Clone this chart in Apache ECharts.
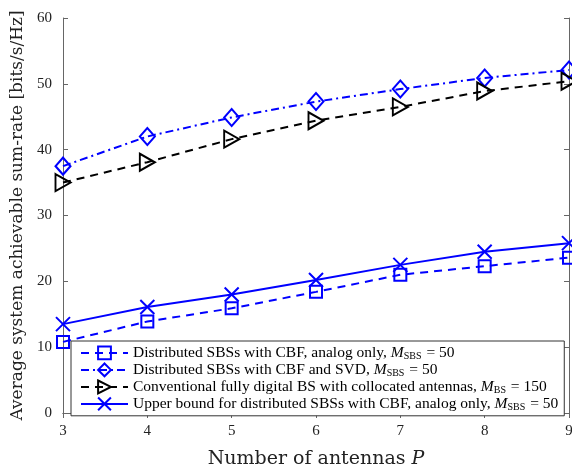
<!DOCTYPE html>
<html>
<head>
<meta charset="utf-8">
<script src="https://cdn.jsdelivr.net/npm/echarts@6/dist/echarts.min.js"></script>
<style>
  html, body { margin: 0; padding: 0; background: #fff; }
  #main { width: 572px; height: 471px; }
</style>
</head>
<body>
<div id="main"></div>
<script>
// 数据
var antennas = [3, 4, 5, 6, 7, 8, 9];
var analogOnly = [10.8, 13.9, 15.9, 18.4, 21.0, 22.3, 23.6];
var cbfSvd = [37.5, 42.0, 44.9, 47.3, 49.2, 50.9, 52.1];
var fullyDigital = [35.0, 38.1, 41.6, 44.4, 46.5, 48.9, 50.4];
var upperBound = [13.5, 16.1, 18.0, 20.2, 22.5, 24.5, 25.8];
var yTicks = [0, 10, 20, 30, 40, 50, 60];

var serif = '"Liberation Serif", "DejaVu Serif", serif';
var wideSerif = '"DejaVu Serif", serif';
var blue = '#0000ff';

function pairs(arr) {
    return antennas.map(function (x, i) { return [x, arr[i]]; });
}

var chart = echarts.init(document.getElementById('main'));

var legendText = {
    'a': 'Distributed SBSs with CBF, analog only, {i|M}{sub|SBS} = 50',
    'b': 'Distributed SBSs with CBF and SVD, {i|M}{sub|SBS} = 50',
    'c': 'Conventional fully digital BS with collocated antennas, {i|M}{sub|BS} = 150',
    'd': 'Upper bound for distributed SBSs with CBF, analog only, {i|M}{sub|SBS} = 50'
};

var option = {
    backgroundColor: '#fff',
    animation: false,
    grid: { left: 63, right: 3, top: 18, bottom: 58, outerBoundsMode: 'none', containLabel: false },
    legend: {
        orient: 'vertical',
        left: 71,
        top: 341,
        padding: [3, 6, 3, 9],
        itemWidth: 47,
        itemHeight: 16,
        itemGap: -0.8,
        backgroundColor: '#fff',
        borderColor: '#333',
        borderWidth: 1,
        data: ['a', 'b', 'c', 'd'],
        formatter: function (name) { return legendText[name]; },
        textStyle: {
            fontFamily: serif,
            fontSize: 15.5,
            lineHeight: 17,
            color: '#000',
            rich: {
                i: { fontFamily: serif, fontStyle: 'italic', fontSize: 15.5, lineHeight: 17 },
                sub: { fontFamily: serif, fontSize: 10, verticalAlign: 'bottom', lineHeight: 13, padding: [4, 1, 0, 0] }
            }
        }
    },
    xAxis: [{
        type: 'value',
        min: 3, max: 9, interval: 1,
        name: '{t|Number of antennas }{p|P}',
        nameLocation: 'middle',
        nameGap: 37,
        nameTextStyle: {
            rich: {
                t: { fontFamily: wideSerif, fontSize: 19, color: '#222' },
                p: { fontFamily: wideSerif, fontSize: 19, fontStyle: 'italic', color: '#222' }
            }
        },
        axisLine: { lineStyle: { color: '#666', width: 1 } },
        axisTick: { inside: true, length: 5, lineStyle: { color: '#666' } },
        axisLabel: { fontFamily: serif, fontSize: 15, color: '#222', margin: 11 },
        splitLine: { show: false }
    }, {
        type: 'value', position: 'top',
        min: 3, max: 9, interval: 1,
        axisLine: { lineStyle: { color: '#666', width: 1 } },
        axisTick: { inside: true, length: 5, lineStyle: { color: '#666' } },
        axisLabel: { show: false },
        splitLine: { show: false }
    }],
    yAxis: [{
        type: 'value',
        min: 0, max: 60, interval: 10,
        name: 'Average system achievable sum-rate [bits/s/Hz]',
        nameLocation: 'middle',
        nameGap: 37,
        nameTextStyle: { fontFamily: wideSerif, fontSize: 17, color: '#222' },
        axisLine: { show: true, lineStyle: { color: '#666', width: 1 } },
        axisTick: { show: true, inside: true, length: 5, lineStyle: { color: '#666' } },
        axisLabel: {
            fontFamily: serif, fontSize: 15, color: '#222', margin: 11,
            formatter: function (v) { return yTicks.indexOf(v) >= 0 ? String(v) : ''; }
        },
        splitLine: { show: false }
    }, {
        type: 'value', position: 'right',
        min: 0, max: 60, interval: 10,
        axisLine: { show: true, lineStyle: { color: '#666', width: 1 } },
        axisTick: { show: true, inside: true, length: 5, lineStyle: { color: '#666' } },
        axisLabel: { show: false },
        splitLine: { show: false }
    }],
    series: [
        {
            name: 'a', type: 'line', data: pairs(analogOnly),
            symbol: 'rect', symbolSize: 12,
            itemStyle: { color: 'none', borderColor: blue, borderWidth: 2 },
            lineStyle: { color: blue, width: 2, type: [8, 6] },
            z: 3
        },
        {
            name: 'b', type: 'line', data: pairs(cbfSvd),
            symbol: 'path://M5,0L10,6L5,12L0,6Z', symbolSize: [15, 17],
            itemStyle: { color: 'none', borderColor: blue, borderWidth: 2 },
            lineStyle: { color: blue, width: 2, type: [8, 4, 2, 4] },
            z: 3
        },
        {
            name: 'c', type: 'line', data: pairs(fullyDigital),
            symbol: 'path://M0,0L10,5L0,10Z', symbolSize: [15, 17],
            itemStyle: { color: 'none', borderColor: '#000', borderWidth: 2 },
            lineStyle: { color: '#000', width: 2, type: [8, 6] },
            z: 3
        },
        {
            name: 'd', type: 'line', data: pairs(upperBound),
            symbol: 'path://M0,0L10,10M10,0L0,10', symbolSize: 14,
            itemStyle: { color: 'none', borderColor: blue, borderWidth: 2 },
            lineStyle: { color: blue, width: 2, type: 'solid' },
            z: 3
        }
    ]
};

chart.setOption(option);
</script>
</body>
</html>
